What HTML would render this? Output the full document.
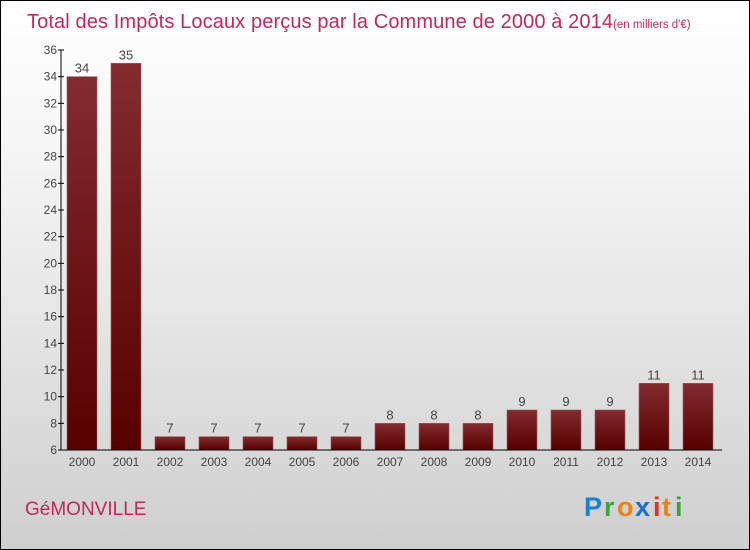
<!DOCTYPE html>
<html><head><meta charset="utf-8"><style>
body{margin:0}
#wrap{position:relative;width:748px;height:548px;border:1px solid #000;background:linear-gradient(#fff,#f4f4f4 30%,#cfcfcf);overflow:hidden;font-family:"Liberation Sans",sans-serif}
</style></head><body>
<div id="wrap">
<svg id="c" width="748" height="548">
<text x="26" y="27" font-size="20" fill="#c0285a" textLength="586">Total des Impôts Locaux perçus par la Commune de 2000 à 2014</text>
<text x="612" y="27" font-size="11.5" fill="#c0285a">(en milliers d'€)</text>
<text x="24" y="514" font-size="19" fill="#c0285a">GéMONVILLE</text>
<g font-size="27" font-weight="bold">
<text x="583" y="515" fill="#1a7fd6">P</text><text x="603" y="515" fill="#3aa53a">r</text><text x="616" y="515" fill="#f08010">o</text><text x="634" y="515" fill="#1a6fd0">x</text><text x="652" y="515" fill="#e03020">i</text><text x="661" y="515" fill="#f08010">t</text><text x="674" y="515" fill="#3aa53a">i</text>
</g>
</svg>
</div>
<script>
const years=["2000","2001","2002","2003","2004","2005","2006","2007","2008","2009","2010","2011","2012","2013","2014"];
const values=[34,35,7,7,7,7,7,8,8,8,9,9,9,11,11];
const yTicks=[6,8,10,12,14,16,18,20,22,24,26,28,30,32,34,36];
const svg=document.getElementById('c');
const NS='http://www.w3.org/2000/svg';
const y0=449,y1=49,vmin=6,vmax=36;
const yS=v=>y0-(v-vmin)*(y0-y1)/(vmax-vmin);
const xS=i=>66+i*44;
const bw=30;
function mk(t,a){const e=document.createElementNS(NS,t);for(const k in a)e.setAttribute(k,a[k]);svg.appendChild(e);return e;}
const defs=mk('defs',{});
defs.innerHTML='<linearGradient id="g" x1="0" y1="0" x2="0" y2="1"><stop offset="0" stop-color="#832b30"/><stop offset="1" stop-color="#560000"/></linearGradient>';
values.forEach((v,i)=>{
 const r=mk('rect',{x:xS(i),y:yS(v),width:bw,height:y0-yS(v),fill:'url(#g)',stroke:'#9a5a5a','stroke-width':0.6});
 
 
 const t=mk('text',{x:xS(i)+bw/2,y:yS(v)-4,'text-anchor':'middle','font-size':13,fill:'#444'});
 t.textContent=v;
 
 
 const xl=mk('text',{x:xS(i)+bw/2,y:y0+16,'text-anchor':'middle','font-size':12,fill:'#444'});
 xl.textContent=years[i];
 
 
});
const ya=mk('line',{x1:60,y1:y1,x2:60,y2:y0,stroke:'#000'});


const xa=mk('line',{x1:60,y1:y0,x2:721,y2:y0,stroke:'#000'});


yTicks.forEach(v=>{
 mk('line',{x1:57,y1:yS(v),x2:63,y2:yS(v),stroke:'#000'});
 const t=mk('text',{x:56,y:yS(v)+4,'text-anchor':'end','font-size':12,fill:'#444'});
 t.textContent=v;
 
 
});
</script>
</body></html>
